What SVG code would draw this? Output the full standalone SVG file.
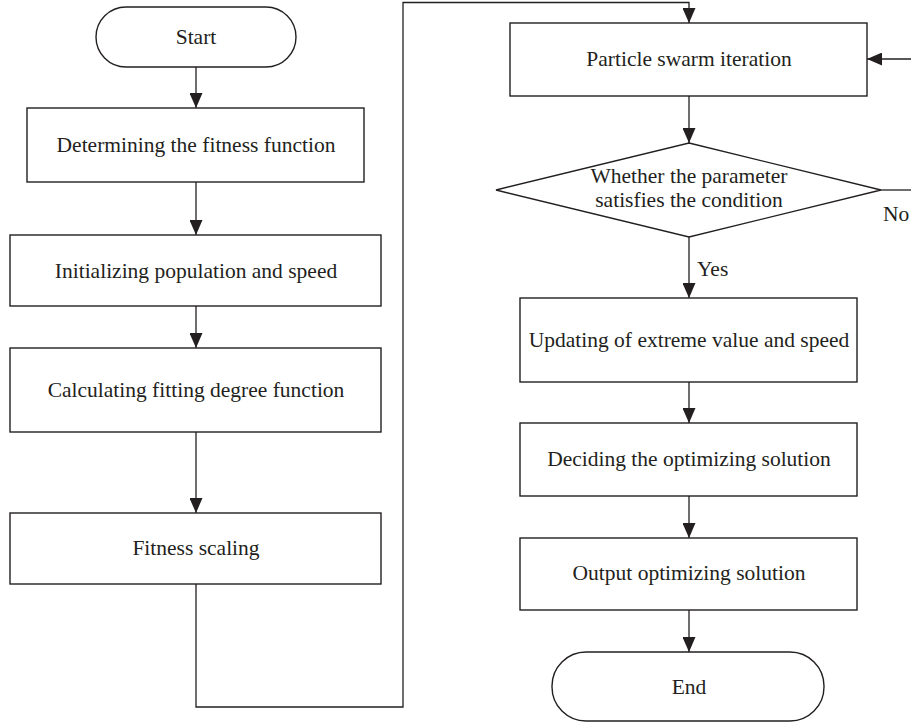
<svg xmlns="http://www.w3.org/2000/svg" width="911" height="723" viewBox="0 0 911 723">
<defs>
<marker id="ah" markerWidth="16" markerHeight="13" refX="15" refY="6.5" orient="auto" markerUnits="userSpaceOnUse">
<path d="M0,0 L15,6.5 L0,13 Z" fill="#231f20"/>
</marker>
</defs>
<style>
.n{fill:#fff;stroke:#231f20;stroke-width:1.4}
.c{fill:none;stroke:#231f20;stroke-width:1.3}
text{font-family:"Liberation Serif","Times New Roman",serif;font-size:21.5px;fill:#231f20}
.m{text-anchor:middle}
</style>
<rect width="911" height="723" fill="#fff"/>
<g id="connectors">
<path class="c" d="M196,67 V108" marker-end="url(#ah)"/>
<path class="c" d="M196,182 V235" marker-end="url(#ah)"/>
<path class="c" d="M196,306 V348" marker-end="url(#ah)"/>
<path class="c" d="M196,432 V513" marker-end="url(#ah)"/>
<path class="c" d="M196,584 V707 H403 V2.5 H689 V23" marker-end="url(#ah)"/>
<path class="c" d="M689,96 V143" marker-end="url(#ah)"/>
<path class="c" d="M689,237 V298" marker-end="url(#ah)"/>
<path class="c" d="M689,382 V423" marker-end="url(#ah)"/>
<path class="c" d="M689,496 V538" marker-end="url(#ah)"/>
<path class="c" d="M689,610 V652" marker-end="url(#ah)"/>
<path class="c" d="M881,190 H911"/>
<path class="c" d="M911,59 H867" marker-end="url(#ah)"/>
<text x="697" y="276">Yes</text>
<text x="883" y="221">No</text>
</g>
<g id="start">
<rect class="n" x="96" y="7" width="200" height="60" rx="30" ry="30"/>
<text class="m" x="196" y="44">Start</text>
</g>
<g id="determine">
<rect class="n" x="27" y="108" width="337" height="74"/>
<text class="m" x="196" y="152">Determining the fitness function</text>
</g>
<g id="init">
<rect class="n" x="10" y="235" width="371" height="71"/>
<text class="m" x="196" y="278">Initializing population and speed</text>
</g>
<g id="calc">
<rect class="n" x="10" y="348" width="371" height="84"/>
<text class="m" x="196" y="397">Calculating fitting degree function</text>
</g>
<g id="scaling">
<rect class="n" x="10" y="513" width="371" height="71"/>
<text class="m" x="196" y="555">Fitness scaling</text>
</g>
<g id="pso">
<rect class="n" x="510" y="23" width="357" height="73"/>
<text class="m" x="689" y="66">Particle swarm iteration</text>
</g>
<g id="decision">
<polygon class="n" points="689,143 881,190 689,237 496,190"/>
<text class="m" x="689" y="183">Whether the parameter</text>
<text class="m" x="689" y="207">satisfies the condition</text>
</g>
<g id="update">
<rect class="n" x="520" y="298" width="337" height="84"/>
<text class="m" x="689" y="347">Updating of extreme value and speed</text>
</g>
<g id="decide">
<rect class="n" x="520" y="423" width="337" height="73"/>
<text class="m" x="689" y="466">Deciding the optimizing solution</text>
</g>
<g id="output">
<rect class="n" x="520" y="538" width="337" height="72"/>
<text class="m" x="689" y="580">Output optimizing solution</text>
</g>
<g id="end">
<rect class="n" x="552" y="652" width="272" height="69" rx="34" ry="34"/>
<text class="m" x="689" y="694">End</text>
</g>
</svg>
